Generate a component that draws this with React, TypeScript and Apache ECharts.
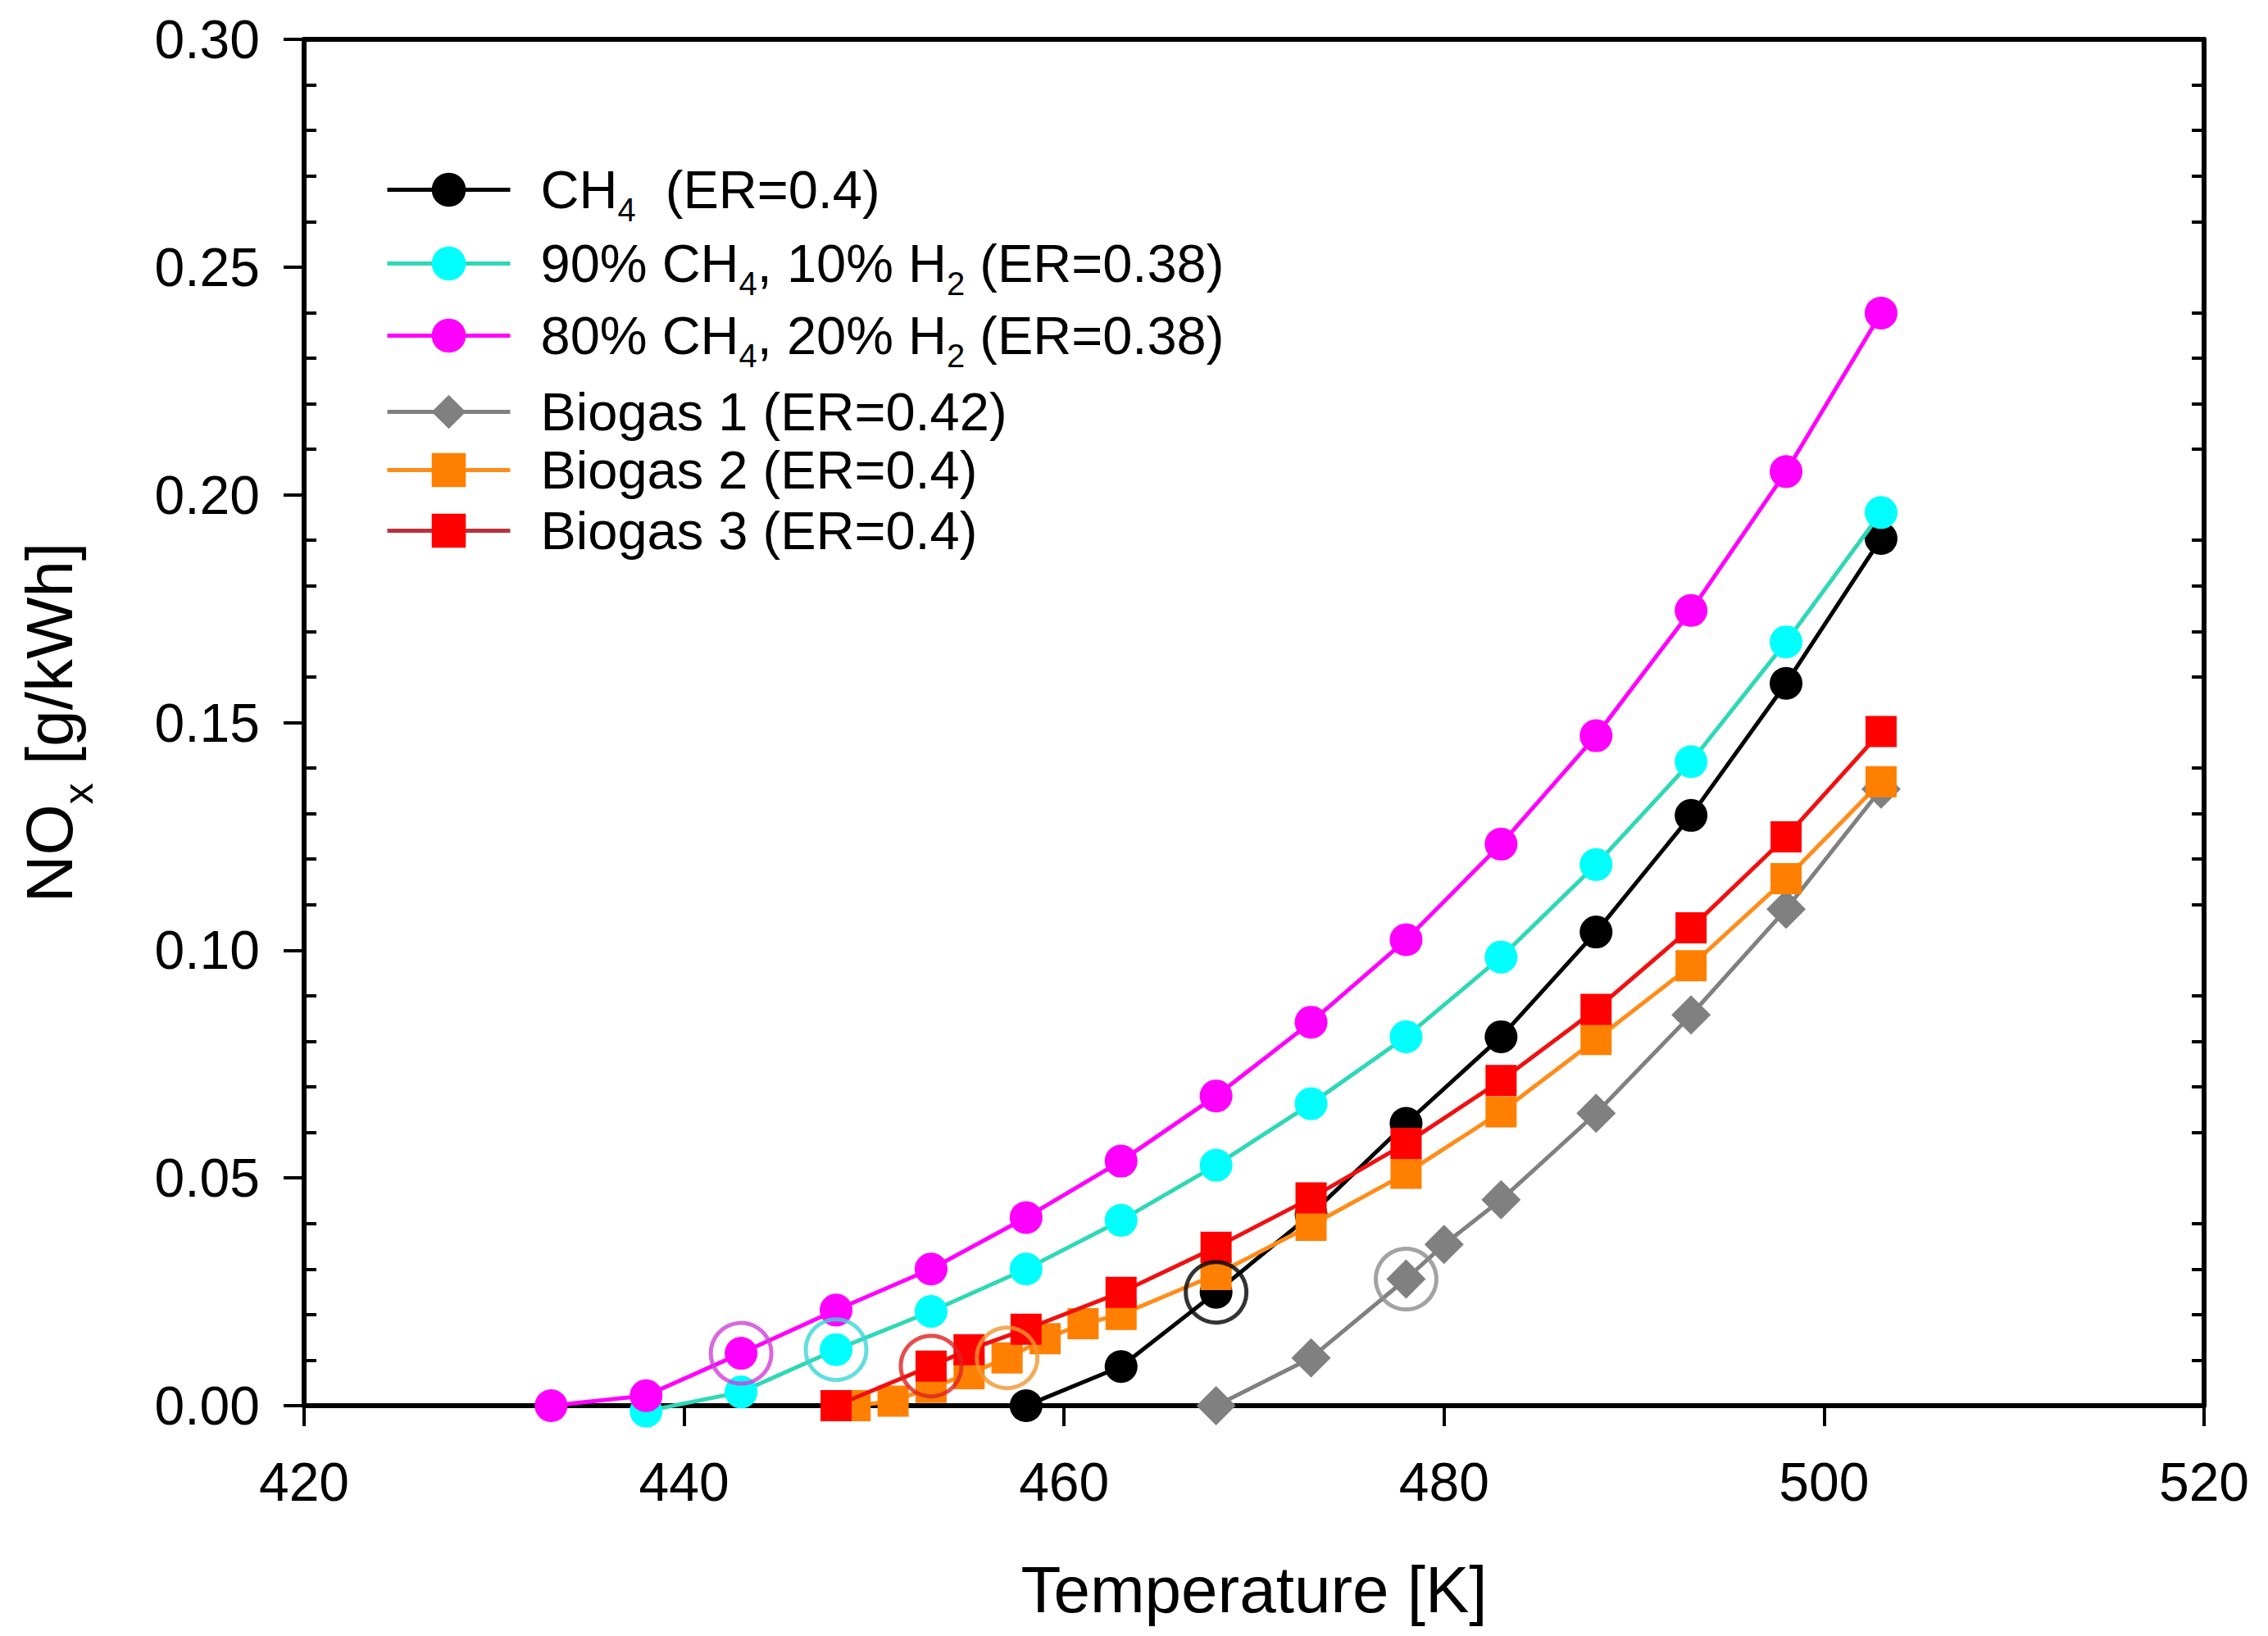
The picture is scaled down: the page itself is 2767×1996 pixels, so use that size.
import React, { useEffect, useRef } from "react";
import * as echarts from "echarts";

// ---------------- data ----------------
const ch4T = [458, 463, 468, 473, 478, 483, 488, 493, 498, 503];
const ch4V = [0.0, 0.0086, 0.0249, 0.042, 0.062, 0.081, 0.104, 0.1296, 0.1586, 0.1904];

const h10T = [438, 443, 448, 453, 458, 463, 468, 473, 478, 483, 488, 493, 498, 503];
const h10V = [-0.0012, 0.003, 0.0123, 0.0207, 0.03, 0.0407, 0.0528, 0.0663, 0.081, 0.0985, 0.1188, 0.1414, 0.1677, 0.1961];

const h20T = [433, 438, 443, 448, 453, 458, 463, 468, 473, 478, 483, 488, 493, 498, 503];
const h20V = [0.0, 0.0022, 0.0115, 0.021, 0.03, 0.0413, 0.0537, 0.068, 0.0842, 0.1023, 0.1233, 0.1471, 0.1746, 0.2051, 0.2399];

const bg1T = [468, 473, 478, 480, 483, 488, 493, 498, 503];
const bg1V = [0.0, 0.0105, 0.0278, 0.0354, 0.0452, 0.0642, 0.0858, 0.109, 0.1354];

const bg2T = [449, 451, 453, 455, 457, 459, 461, 463, 468, 473, 478, 483, 488, 493, 498, 503];
const bg2V = [0.0, 0.001, 0.004, 0.007, 0.0105, 0.0147, 0.018, 0.02, 0.0288, 0.0396, 0.051, 0.0645, 0.0804, 0.0966, 0.1157, 0.137];

const bg3T = [448, 453, 455, 458, 463, 468, 473, 478, 483, 488, 493, 498, 503];
const bg3V = [0.0, 0.0087, 0.0123, 0.0168, 0.0249, 0.0348, 0.0456, 0.0576, 0.0714, 0.087, 0.1049, 0.1249, 0.148];

// temperature of the circled (onset) point of each series
const onsetT = [468, 448, 443, 478, 457, 453];

const seriesNames = [
  "CH4 (ER=0.4)",
  "90% CH4, 10% H2 (ER=0.38)",
  "80% CH4, 20% H2 (ER=0.38)",
  "Biogas 1 (ER=0.42)",
  "Biogas 2 (ER=0.4)",
  "Biogas 3 (ER=0.4)",
];
const legendLabels = [
  "{g| }{n|CH}{s|4}{n|  (ER=0.4)}",
  "{g| }{n|90% CH}{s|4}{n|, 10% H}{s|2}{n| (ER=0.38)}",
  "{g| }{n|80% CH}{s|4}{n|, 20% H}{s|2}{n| (ER=0.38)}",
  "{g| }{n|Biogas 1 (ER=0.42)}",
  "{g| }{n|Biogas 2 (ER=0.4)}",
  "{g| }{n|Biogas 3 (ER=0.4)}",
];

const xTicks = { min: 420, max: 520, interval: 20 };
const yTicks = { min: 0, max: 0.3, interval: 0.05 };

// ---------------- styles ----------------
const FONT = "'Liberation Sans', Arial, Helvetica, sans-serif";
const markerColors = ["#000000", "#00FFFF", "#FF00FF", "#808080", "#FF8000", "#FF0000"];
const lineColors = ["#000000", "#2ED8B6", "#FF00FF", "#808080", "#FF8C1A", "#F01010"];
const legendLineColors = ["#000000", "#2ED8B6", "#FF00FF", "#808080", "#FF8C1A", "#B8323C"];
const circleColors = ["#000000", "#3CD6D6", "#D040D8", "#8C8C8C", "#F0962E", "#E02020"];
const symbols = ["circle", "circle", "circle", "diamond", "rect", "rect"];
const symbolSizes = [40, 40, 40, 48, 38, 38];
const legendRowY = [243, 333, 421, 505, 576, 650];
const legendHasSub = [true, true, true, false, false, false];

const allT = [ch4T, h10T, h20T, bg1T, bg2T, bg3T];
const allV = [ch4V, h10V, h20V, bg1V, bg2V, bg3V];

function buildOption() {
  const lineSeries = allT.map((T, k) => ({
    type: "line",
    name: seriesNames[k],
    xAxisIndex: 0,
    yAxisIndex: 0,
    data: T.map((t, i) => [t, allV[k][i]]),
    symbol: symbols[k],
    symbolSize: symbolSizes[k],
    showAllSymbol: true,
    lineStyle: { color: lineColors[k], width: 5 },
    itemStyle: { color: markerColors[k] },
    clip: false,
    z: 2 + k * 0.01,
  }));

  const circleData = onsetT.map((t, k) => {
    const idx = allT[k].indexOf(t);
    return {
      value: [t, allV[k][idx]],
      itemStyle: { borderColor: circleColors[k] },
    };
  });

  const circleSeries = {
    type: "scatter",
    name: "onset",
    xAxisIndex: 0,
    yAxisIndex: 0,
    data: circleData,
    symbol: "circle",
    symbolSize: 74,
    itemStyle: { color: "rgba(0,0,0,0)", borderWidth: 5 },
    z: 5,
    silent: true,
  };

  const richLegend = {
    g: { width: 32, fontSize: 20 },
    n: { fontSize: 65, fontFamily: FONT, color: "#000", lineHeight: 70 },
    s: { fontSize: 40, fontFamily: FONT, color: "#000", lineHeight: 88, verticalAlign: "bottom" },
  };

  const itemHeight = 52;
  const legends = seriesNames.map((name, k) => {
    const boxH = legendHasSub[k] ? 88 : 70;
    return {
      show: true,
      left: 470,
      top: legendRowY[k] - boxH / 2,
      padding: 0,
      orient: "vertical",
      itemWidth: 150,
      itemHeight,
      selectedMode: false,
      data: [
        {
          name,
          lineStyle: { color: legendLineColors[k], width: 5 },
          itemStyle: { color: markerColors[k] },
        },
      ],
      formatter: () => legendLabels[k],
      textStyle: { rich: richLegend },
    };
  });

  const axisLine = { show: true, onZero: false, lineStyle: { color: "#000", width: 6 } };

  return {
    animation: false,
    backgroundColor: "#ffffff",
    grid: { left: 371, right: 78, top: 48, bottom: 281 },
    legend: legends,
    xAxis: [
      {
        type: "value",
        position: "bottom",
        min: xTicks.min,
        max: xTicks.max,
        interval: xTicks.interval,
        axisLine,
        axisTick: { show: true, length: 25, lineStyle: { color: "#000", width: 4 } },
        axisLabel: { fontSize: 66, fontFamily: FONT, color: "#000", margin: 60 },
        splitLine: { show: false },
        name: "Temperature [K]",
        nameLocation: "middle",
        nameGap: 184,
        nameTextStyle: { fontSize: 80, fontFamily: FONT, color: "#000" },
      },
      {
        type: "value",
        position: "top",
        min: xTicks.min,
        max: xTicks.max,
        interval: xTicks.interval,
        axisLine,
        axisTick: { show: false },
        axisLabel: { show: false },
        splitLine: { show: false },
      },
    ],
    yAxis: [
      {
        type: "value",
        position: "left",
        min: yTicks.min,
        max: yTicks.max,
        interval: yTicks.interval,
        axisLine,
        axisTick: { show: true, length: 25, lineStyle: { color: "#000", width: 4 } },
        axisLabel: {
          fontSize: 66,
          fontFamily: FONT,
          color: "#000",
          margin: 54,
          formatter: (v: number) => v.toFixed(2),
        },
        splitLine: { show: false },
        name: "{n|NO}{s|x}{n| [g/kWh]}",
        nameLocation: "middle",
        nameGap: 250,
        nameRotate: 90,
        nameTextStyle: {
          rich: {
            n: { fontSize: 80, fontFamily: FONT, color: "#000", lineHeight: 84 },
            s: { fontSize: 52, fontFamily: FONT, color: "#000", lineHeight: 122, verticalAlign: "bottom" },
          },
        },
      },
      {
        type: "value",
        position: "left",
        min: yTicks.min,
        max: yTicks.max,
        interval: yTicks.interval,
        axisLine: { show: false, onZero: false },
        axisTick: { show: false, inside: true },
        minorTick: { show: true, splitNumber: 5, length: 15, lineStyle: { color: "#000", width: 4 } },
        axisLabel: { show: false },
        splitLine: { show: false },
      },
      {
        type: "value",
        position: "right",
        min: yTicks.min,
        max: yTicks.max,
        interval: yTicks.interval,
        axisLine,
        axisTick: { show: false, inside: true },
        minorTick: { show: true, splitNumber: 5, length: 15, lineStyle: { color: "#000", width: 4 } },
        axisLabel: { show: false },
        splitLine: { show: false },
      },
    ],
    series: [...lineSeries, circleSeries],
  };
}

export default function App() {
  const ref = useRef<HTMLDivElement>(null);
  useEffect(() => {
    if (!ref.current) return;
    const chart = echarts.init(ref.current, null, { renderer: "svg" });
    chart.setOption(buildOption() as any);
    return () => chart.dispose();
  }, []);
  return (
    <div
      ref={ref}
      style={{ position: "fixed", left: 0, top: 0, width: 2767, height: 1996, background: "#fff" }}
    />
  );
}
